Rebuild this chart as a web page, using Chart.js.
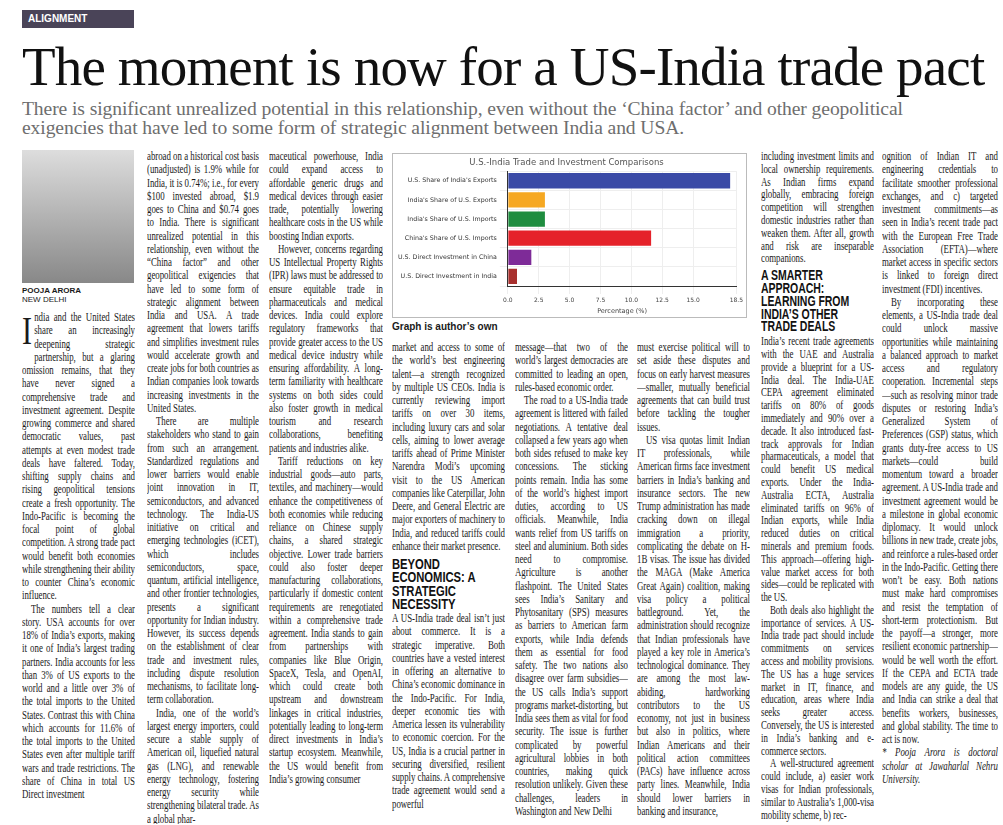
<!DOCTYPE html>
<html lang="en"><head><meta charset="utf-8">
<script src="https://cdn.jsdelivr.net/npm/chart.js@4"></script>
<style>
body{margin:0;background:#fff;width:1003px;height:825px;overflow:hidden;position:relative;font-family:"Liberation Serif",serif;color:#1a1a1a}
.tag{position:absolute;left:22px;top:10px;width:112px;height:18px;background:#4a4458;color:#fff;font:bold 10px "Liberation Sans",sans-serif;line-height:18px;padding-left:6px;box-sizing:border-box}
#head{position:absolute;left:22px;top:34px;font-size:55px;white-space:nowrap;line-height:66px;color:#111}
.sub{position:absolute;left:22px;top:99px;width:960px;font-size:19.6px;line-height:19px;color:#6e6e6e;letter-spacing:-0.1px}
.col{position:absolute;overflow:hidden}
.in{font-size:11.8px;line-height:13.25px;text-align:justify;letter-spacing:-0.05px;transform:scaleX(0.75);transform-origin:0 0}
.in p{margin:0;text-indent:12px}
.in p.ni{text-indent:0}
.in h4{margin:4px 0 2px;font:bold 15px/13.3px "Liberation Sans Narrow","Liberation Sans",sans-serif;color:#111;text-transform:uppercase;text-align:left}
.photo{position:absolute;left:22px;top:150px;width:112px;height:133px;background:linear-gradient(180deg,#ddd,#bbb 40%,#888)}
.name{position:absolute;left:22px;top:286px;font:bold 8px "Liberation Sans",sans-serif}
.city{position:absolute;left:22px;top:295px;font:8px "Liberation Sans",sans-serif}
.box{position:absolute;left:392px;top:153px;width:355px;height:165px;border:1px solid #bbb;box-sizing:border-box}
.cap{position:absolute;left:392px;top:321px;font:bold 10px "Liberation Sans Narrow","Liberation Sans",sans-serif}
.drop{float:left;font-size:40px;line-height:40px;margin:0 3px 0 0}
</style></head><body>
<div class="tag">ALIGNMENT</div>
<div id="head">The moment is now for a US-India trade pact</div>
<div class="sub">There is significant unrealized potential in this relationship, even without the ‘China factor’ and other geopolitical exigencies that have led to some form of strategic alignment between India and USA.</div>
<div class="photo"></div>
<div class="name">POOJA ARORA</div>
<div class="city">NEW DELHI</div>
<div class="box"><canvas id="c"></canvas></div>
<div class="cap">Graph is author’s own</div>

<div class="col" style="left:22px;top:311px;width:113px;height:513px"><div class="in">
<p class="ni"><span class="drop">I</span>ndia and the United States share an increasingly deepening strategic partnership, but a glaring omission remains, that they have never signed a comprehensive trade and investment agreement. Despite growing commerce and shared democratic values, past attempts at even modest trade deals have faltered. Today, shifting supply chains and rising geopolitical tensions create a fresh opportunity. The Indo-Pacific is becoming the focal point of global competition. A strong trade pact would benefit both economies while strengthening their ability to counter China’s economic influence.</p>
<p>The numbers tell a clear story. USA accounts for over 18% of India’s exports, making it one of India’s largest trading partners. India accounts for less than 3% of US exports to the world and a little over 3% of the total imports to the United States. Contrast this with China which accounts for 11.6% of the total imports to the United States even after multiple tariff wars and trade restrictions. The share of China in total US Direct investment</p>
</div></div>

<div class="col" style="left:147px;top:150px;width:112px;height:674px"><div class="in">
<p class="ni">abroad on a historical cost basis (unadjusted) is 1.9% while for India, it is 0.74%; i.e., for every $100 invested abroad, $1.9 goes to China and $0.74 goes to India. There is significant unrealized potential in this relationship, even without the “China factor” and other geopolitical exigencies that have led to some form of strategic alignment between India and USA. A trade agreement that lowers tariffs and simplifies investment rules would accelerate growth and create jobs for both countries as Indian companies look towards increasing investments in the United States.</p>
<p>There are multiple stakeholders who stand to gain from such an arrangement. Standardized regulations and lower barriers would enable joint innovation in IT, semiconductors, and advanced technology. The India-US initiative on critical and emerging technologies (iCET), which includes semiconductors, space, quantum, artificial intelligence, and other frontier technologies, presents a significant opportunity for Indian industry. However, its success depends on the establishment of clear trade and investment rules, including dispute resolution mechanisms, to facilitate long-term collaboration.</p>
<p>India, one of the world’s largest energy importers, could secure a stable supply of American oil, liquefied natural gas (LNG), and renewable energy technology, fostering energy security while strengthening bilateral trade. As a global phar-</p>
</div></div>

<div class="col" style="left:269px;top:150px;width:114px;height:674px"><div class="in">
<p class="ni">maceutical powerhouse, India could expand access to affordable generic drugs and medical devices through easier trade, potentially lowering healthcare costs in the US while boosting Indian exports.</p>
<p>However, concerns regarding US Intellectual Property Rights (IPR) laws must be addressed to ensure equitable trade in pharmaceuticals and medical devices. India could explore regulatory frameworks that provide greater access to the US medical device industry while ensuring affordability. A long-term familiarity with healthcare systems on both sides could also foster growth in medical tourism and research collaborations, benefiting patients and industries alike.</p>
<p>Tariff reductions on key industrial goods—auto parts, textiles, and machinery—would enhance the competitiveness of both economies while reducing reliance on Chinese supply chains, a shared strategic objective. Lower trade barriers could also foster deeper manufacturing collaborations, particularly if domestic content requirements are renegotiated within a comprehensive trade agreement. India stands to gain from partnerships with companies like Blue Origin, SpaceX, Tesla, and OpenAI, which could create both upstream and downstream linkages in critical industries, potentially leading to long-term direct investments in India’s startup ecosystem. Meanwhile, the US would benefit from India’s growing consumer</p>
</div></div>

<div class="col" style="left:392px;top:341px;width:113px;height:483px"><div class="in">
<p class="ni">market and access to some of the world’s best engineering talent—a strength recognized by multiple US CEOs. India is currently reviewing import tariffs on over 30 items, including luxury cars and solar cells, aiming to lower average tariffs ahead of Prime Minister Narendra Modi’s upcoming visit to the US American companies like Caterpillar, John Deere, and General Electric are major exporters of machinery to India, and reduced tariffs could enhance their market presence.</p>
<h4>Beyond economics: A strategic necessity</h4>
<p class="ni">A US-India trade deal isn’t just about commerce. It is a strategic imperative. Both countries have a vested interest in offering an alternative to China’s economic dominance in the Indo-Pacific. For India, deeper economic ties with America lessen its vulnerability to economic coercion. For the US, India is a crucial partner in securing diversified, resilient supply chains. A comprehensive trade agreement would send a powerful</p>
</div></div>

<div class="col" style="left:515px;top:341px;width:113px;height:483px"><div class="in">
<p class="ni">message—that two of the world’s largest democracies are committed to leading an open, rules-based economic order.</p>
<p>The road to a US-India trade agreement is littered with failed negotiations. A tentative deal collapsed a few years ago when both sides refused to make key concessions. The sticking points remain. India has some of the world’s highest import duties, according to US officials. Meanwhile, India wants relief from US tariffs on steel and aluminium. Both sides need to compromise. Agriculture is another flashpoint. The United States sees India’s Sanitary and Phytosanitary (SPS) measures as barriers to American farm exports, while India defends them as essential for food safety. The two nations also disagree over farm subsidies—the US calls India’s support programs market-distorting, but India sees them as vital for food security. The issue is further complicated by powerful agricultural lobbies in both countries, making quick resolution unlikely. Given these challenges, leaders in Washington and New Delhi</p>
</div></div>

<div class="col" style="left:637px;top:341px;width:113px;height:483px"><div class="in">
<p class="ni">must exercise political will to set aside these disputes and focus on early harvest measures—smaller, mutually beneficial agreements that can build trust before tackling the tougher issues.</p>
<p>US visa quotas limit Indian IT professionals, while American firms face investment barriers in India’s banking and insurance sectors. The new Trump administration has made cracking down on illegal immigration a priority, complicating the debate on H-1B visas. The issue has divided the MAGA (Make America Great Again) coalition, making visa policy a political battleground. Yet, the administration should recognize that Indian professionals have played a key role in America’s technological dominance. They are among the most law-abiding, hardworking contributors to the US economy, not just in business but also in politics, where Indian Americans and their political action committees (PACs) have influence across party lines. Meanwhile, India should lower barriers in banking and insurance,</p>
</div></div>

<div class="col" style="left:761px;top:150px;width:113px;height:674px"><div class="in" style="line-height:12.8px">
<p class="ni">including investment limits and local ownership requirements. As Indian firms expand globally, embracing foreign competition will strengthen domestic industries rather than weaken them. After all, growth and risk are inseparable companions.</p>
<h4 style="font-size:14px;line-height:12.8px">A smarter approach: Learning from India’s other trade deals</h4>
<p class="ni">India’s recent trade agreements with the UAE and Australia provide a blueprint for a US-India deal. The India-UAE CEPA agreement eliminated tariffs on 80% of goods immediately and 90% over a decade. It also introduced fast-track approvals for Indian pharmaceuticals, a model that could benefit US medical exports. Under the India-Australia ECTA, Australia eliminated tariffs on 96% of Indian exports, while India reduced duties on critical minerals and premium foods. This approach—offering high-value market access for both sides—could be replicated with the US.</p>
<p>Both deals also highlight the importance of services. A US-India trade pact should include commitments on services access and mobility provisions. The US has a huge services market in IT, finance, and education, areas where India seeks greater access. Conversely, the US is interested in India’s banking and e-commerce sectors.</p>
<p>A well-structured agreement could include, a) easier work visas for Indian professionals, similar to Australia’s 1,000-visa mobility scheme, b) rec-</p>
</div></div>

<div class="col" style="left:882px;top:150px;width:116px;height:674px"><div class="in">
<p class="ni">ognition of Indian IT and engineering credentials to facilitate smoother professional exchanges, and c) targeted investment commitments—as seen in India’s recent trade pact with the European Free Trade Association (EFTA)—where market access in specific sectors is linked to foreign direct investment (FDI) incentives.</p>
<p>By incorporating these elements, a US-India trade deal could unlock massive opportunities while maintaining a balanced approach to market access and regulatory cooperation. Incremental steps—such as resolving minor trade disputes or restoring India’s Generalized System of Preferences (GSP) status, which grants duty-free access to US markets—could build momentum toward a broader agreement. A US-India trade and investment agreement would be a milestone in global economic diplomacy. It would unlock billions in new trade, create jobs, and reinforce a rules-based order in the Indo-Pacific. Getting there won’t be easy. Both nations must make hard compromises and resist the temptation of short-term protectionism. But the payoff—a stronger, more resilient economic partnership—would be well worth the effort. If the CEPA and ECTA trade models are any guide, the US and India can strike a deal that benefits workers, businesses, and global stability. The time to act is now.</p>
<p class="ni"><i>* Pooja Arora is doctoral scholar at Jawaharlal Nehru University.</i></p>
</div></div>

<script>
const categories=["U.S. Share of India's Exports","India's Share of U.S. Exports","India's Share of U.S. Imports","China's Share of U.S. Imports","U.S. Direct Investment in China","U.S. Direct Investment in India"];
const values=[18,3,3,11.6,1.9,0.74];
const barColors=["#3a4aa6","#f6a822","#1f8d3f","#e5222a","#7e2b98","#a8302e"];
const chartTitle="U.S.-India Trade and Investment Comparisons";
const axisTitle="Percentage (%)";

const h=document.getElementById('head');
const w=h.getBoundingClientRect().width;
h.style.letterSpacing=((963-w)/42).toFixed(2)+'px';

document.querySelectorAll('.col').forEach(c=>{
  const inn=c.querySelector('.in');
  inn.style.width=(parseFloat(c.style.width)/0.75)+'px';
});

const cv=document.getElementById('c');
cv.width=353;cv.height=163;cv.style.width='353px';cv.style.height='163px';
new Chart(cv,{type:'bar',
data:{labels:categories,datasets:[{data:values,backgroundColor:barColors,barPercentage:0.8,categoryPercentage:1}]},
options:{indexAxis:'y',responsive:false,animation:false,devicePixelRatio:1,
layout:{padding:{left:2,right:8,top:2,bottom:2}},
plugins:{legend:{display:false},tooltip:{enabled:false},
title:{display:true,text:chartTitle,color:'#555',font:{family:'DejaVu Sans',size:8.5,weight:'normal'},padding:{top:2,bottom:3}}},
scales:{x:{min:0,max:18.5,ticks:{stepSize:2.5,color:'#444',font:{family:'DejaVu Sans',size:6},callback:v=>Number(v).toFixed(1)},
grid:{color:'#eee'},border:{color:'#333'},title:{display:true,text:axisTitle,color:'#444',font:{family:'DejaVu Sans',size:6.5},padding:0}},
y:{ticks:{color:'#333',font:{family:'DejaVu Sans',size:6.3}},grid:{color:'#eee'},border:{color:'#333'}}}}});
</script>
</body></html>
